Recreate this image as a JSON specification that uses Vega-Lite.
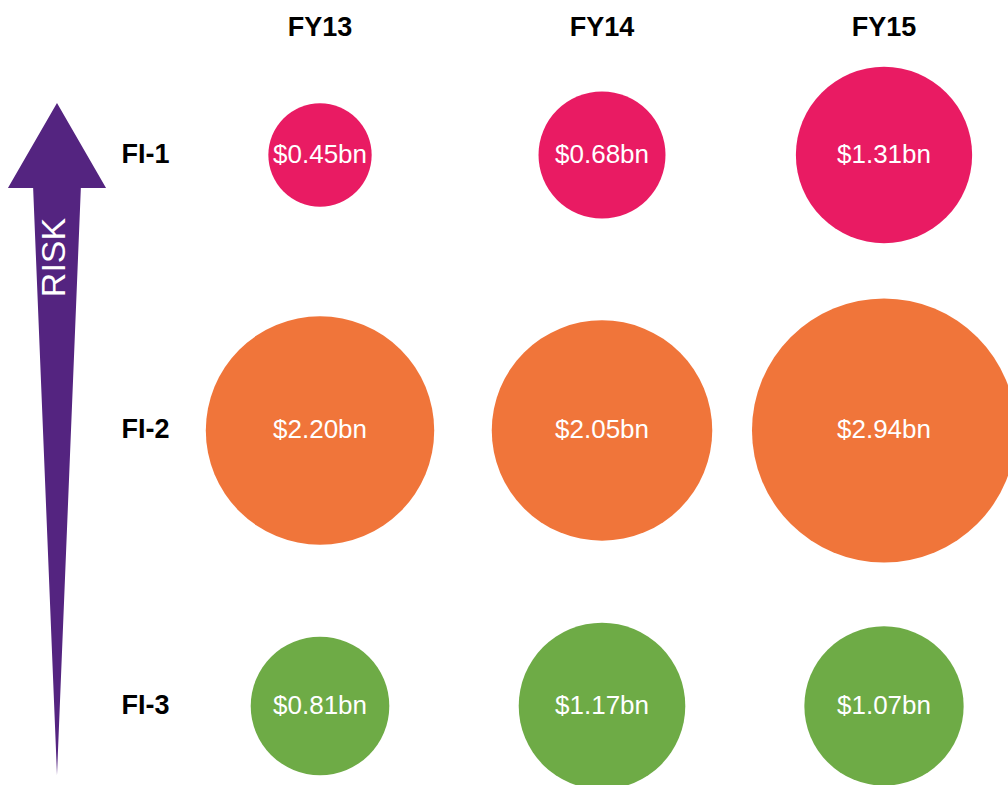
{
  "$schema": "https://vega.github.io/schema/vega-lite/v6.json",
  "autosize": {"type": "none"},
  "width": 1008,
  "height": 785,
  "padding": 0,
  "background": "white",
  "config": {"view": {"stroke": null}},
  "datasets": {
    "bubbles": [
      {"year": "FY13", "col": 1, "group": "FI-1", "row": 3, "value": 0.45, "label": "$0.45bn"},
      {"year": "FY14", "col": 2, "group": "FI-1", "row": 3, "value": 0.68, "label": "$0.68bn"},
      {"year": "FY15", "col": 3, "group": "FI-1", "row": 3, "value": 1.31, "label": "$1.31bn"},
      {"year": "FY13", "col": 1, "group": "FI-2", "row": 2, "value": 2.20, "label": "$2.20bn"},
      {"year": "FY14", "col": 2, "group": "FI-2", "row": 2, "value": 2.05, "label": "$2.05bn"},
      {"year": "FY15", "col": 3, "group": "FI-2", "row": 2, "value": 2.94, "label": "$2.94bn"},
      {"year": "FY13", "col": 1, "group": "FI-3", "row": 1, "value": 0.81, "label": "$0.81bn"},
      {"year": "FY14", "col": 2, "group": "FI-3", "row": 1, "value": 1.17, "label": "$1.17bn"},
      {"year": "FY15", "col": 3, "group": "FI-3", "row": 1, "value": 1.07, "label": "$1.07bn"}
    ],
    "headers": [
      {"label": "FY13", "col": 1, "row": 3.4627},
      {"label": "FY14", "col": 2, "row": 3.4627},
      {"label": "FY15", "col": 3, "row": 3.4627}
    ],
    "rowlabels": [
      {"label": "FI-1", "col": 0.381, "row": 3},
      {"label": "FI-2", "col": 0.381, "row": 2},
      {"label": "FI-3", "col": 0.381, "row": 1}
    ],
    "arrow": [
      {"label": "RISK", "col": 0.0673, "row": 1.969, "tcol": 0.0585, "trow": 2.628}
    ]
  },
  "layer": [
    {
      "data": {"name": "arrow"},
      "mark": {
        "type": "point",
        "shape": "M0,-1L0.146,-0.747L0.071,-0.747L0,1L-0.071,-0.747L-0.146,-0.747Z",
        "filled": true,
        "opacity": 1,
        "color": "#542480",
        "strokeWidth": 0
      },
      "encoding": {
        "x": {"field": "col", "type": "quantitative", "scale": {"domain": [-0.1348, 3.4397], "nice": false, "zero": false}, "axis": null},
        "y": {"field": "row", "type": "quantitative", "scale": {"domain": [0.7132, 3.5626], "nice": false, "zero": false}, "axis": null},
        "size": {"value": 451584}
      }
    },
    {
      "data": {"name": "arrow"},
      "mark": {"type": "text", "angle": 270, "font": "Liberation Sans", "fontSize": 34, "color": "white", "align": "center", "baseline": "middle"},
      "encoding": {
        "x": {"field": "tcol", "type": "quantitative", "axis": null},
        "y": {"field": "trow", "type": "quantitative", "axis": null},
        "text": {"field": "label"}
      }
    },
    {
      "data": {"name": "bubbles"},
      "mark": {"type": "circle", "opacity": 1, "strokeWidth": 0},
      "encoding": {
        "x": {"field": "col", "type": "quantitative", "axis": null},
        "y": {"field": "row", "type": "quantitative", "axis": null},
        "size": {"field": "value", "type": "quantitative", "scale": {"type": "linear", "domain": [0, 3], "range": [0, 71148]}, "legend": null},
        "color": {"field": "group", "type": "nominal", "scale": {"domain": ["FI-1", "FI-2", "FI-3"], "range": ["#E91B63", "#F0753A", "#6EAB46"]}, "legend": null}
      }
    },
    {
      "data": {"name": "bubbles"},
      "mark": {"type": "text", "font": "Liberation Sans", "fontSize": 26, "color": "white", "align": "center", "baseline": "middle"},
      "encoding": {
        "x": {"field": "col", "type": "quantitative", "axis": null},
        "y": {"field": "row", "type": "quantitative", "axis": null},
        "text": {"field": "label"}
      }
    },
    {
      "data": {"name": "headers"},
      "mark": {"type": "text", "font": "Liberation Sans", "fontSize": 27, "fontWeight": "bold", "color": "black", "align": "center", "baseline": "middle"},
      "encoding": {
        "x": {"field": "col", "type": "quantitative", "axis": null},
        "y": {"field": "row", "type": "quantitative", "axis": null},
        "text": {"field": "label"}
      }
    },
    {
      "data": {"name": "rowlabels"},
      "mark": {"type": "text", "font": "Liberation Sans", "fontSize": 27, "fontWeight": "bold", "color": "black", "align": "center", "baseline": "middle"},
      "encoding": {
        "x": {"field": "col", "type": "quantitative", "axis": null},
        "y": {"field": "row", "type": "quantitative", "axis": null},
        "text": {"field": "label"}
      }
    }
  ]
}
